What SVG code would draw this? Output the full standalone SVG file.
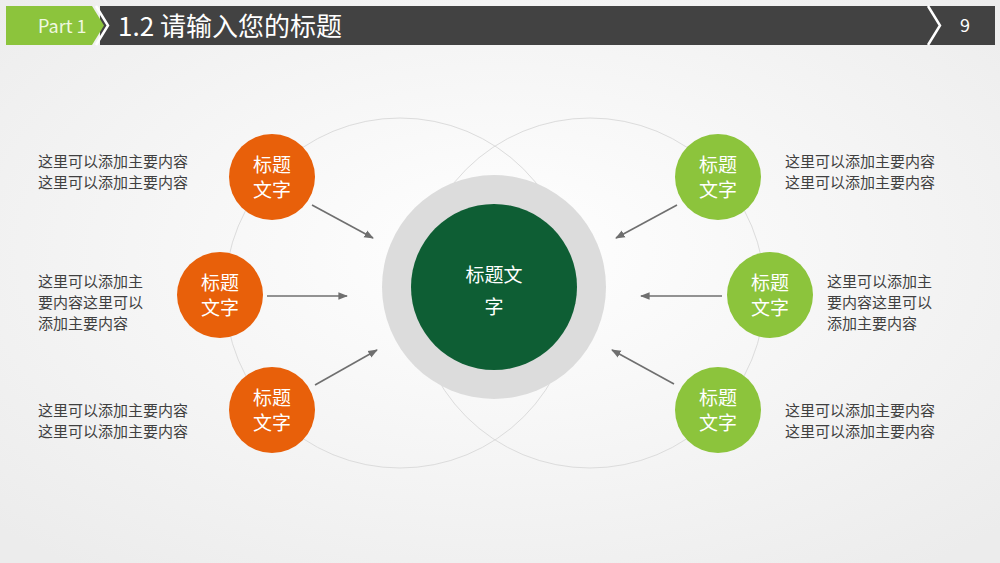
<svg xmlns="http://www.w3.org/2000/svg" width="1000" height="563" viewBox="0 0 1000 563">
<defs>
<radialGradient id="bg" cx="50%" cy="45%" r="70%"><stop offset="0" stop-color="#ffffff"/><stop offset="1" stop-color="#ececec"/></radialGradient>
<marker id="ah" viewBox="0 0 10 10" refX="9" refY="5" markerWidth="6" markerHeight="6" orient="auto"><path d="M0,1 L10,5 L0,9 z" fill="#6f6f6f"/></marker>
<style>
text{font-family:"Noto Sans CJK SC","Liberation Sans",sans-serif}
.t{font-size:15px;fill:#404040}
.n{font-size:19px;fill:#fff;text-anchor:middle}
.c{stroke:#6f6f6f;stroke-width:1.6;fill:none;marker-end:url(#ah)}
.o{fill:#e8600a}.g{fill:#8cc43c}
</style>
</defs>
<rect width="1000" height="563" fill="url(#bg)"/>
<g id="header">
<rect x="100" y="6" width="895" height="39" fill="#424242"/>
<path d="M6,6 H92 L104,25.5 L92,45 H6 z" fill="#8cc43c"/>
<path d="M96,6 L108,25.5 L96,45" stroke="#fff" stroke-width="2.5" fill="none"/>
<path d="M928,6 L940,25.5 L928,45" stroke="#fff" stroke-width="2.5" fill="none"/>
<text x="38" y="33" font-size="18" fill="#f0f8e0" font-family="Liberation Sans">Part 1</text>
<text x="118" y="36" font-size="26" fill="#fff">1.2  请输入您的标题</text>
<text x="965" y="32" font-size="18" fill="#fff" text-anchor="middle" font-family="Liberation Sans">9</text>
</g>
<g id="rings" fill="none" stroke="#dcdcdc" stroke-width="1">
<circle cx="400" cy="293" r="175"/><circle cx="590" cy="293" r="175"/>
</g>
<g id="center">
<circle cx="494" cy="287" r="112" fill="#dcdcdc"/>
<circle cx="494" cy="287" r="83" fill="#0e5e34"/>
<text class="n" x="494" y="282" font-size="25">标题文</text>
<text class="n" x="494" y="314" font-size="25">字</text>
</g>
<g id="L1"><circle class="o" cx="272" cy="177" r="43"/><text class="n" x="272" y="172">标题</text><text class="n" x="272" y="197">文字</text></g>
<g id="L2"><circle class="o" cx="220" cy="295" r="43"/><text class="n" x="220" y="290">标题</text><text class="n" x="220" y="315">文字</text></g>
<g id="L3"><circle class="o" cx="272" cy="410" r="43"/><text class="n" x="272" y="405">标题</text><text class="n" x="272" y="430">文字</text></g>
<g id="R1"><circle class="g" cx="718" cy="177" r="43"/><text class="n" x="718" y="172">标题</text><text class="n" x="718" y="197">文字</text></g>
<g id="R2"><circle class="g" cx="770" cy="295" r="43"/><text class="n" x="770" y="290">标题</text><text class="n" x="770" y="315">文字</text></g>
<g id="R3"><circle class="g" cx="718" cy="410" r="43"/><text class="n" x="718" y="405">标题</text><text class="n" x="718" y="430">文字</text></g>
<g id="connectors">
<line class="c" x1="312" y1="205" x2="373" y2="238"/>
<line class="c" x1="267" y1="296" x2="347" y2="296"/>
<line class="c" x1="315" y1="385" x2="377" y2="350"/>
<line class="c" x1="677" y1="205" x2="616" y2="238"/>
<line class="c" x1="722" y1="296" x2="641" y2="296"/>
<line class="c" x1="674" y1="384" x2="612" y2="350"/>
</g>
<g id="texts">
<text class="t" x="38" y="167">这里可以添加主要内容</text><text class="t" x="38" y="188">这里可以添加主要内容</text>
<text class="t" x="38" y="287">这里可以添加主</text><text class="t" x="38" y="308">要内容这里可以</text><text class="t" x="38" y="329">添加主要内容</text>
<text class="t" x="38" y="416">这里可以添加主要内容</text><text class="t" x="38" y="437">这里可以添加主要内容</text>
<text class="t" x="785" y="167">这里可以添加主要内容</text><text class="t" x="785" y="188">这里可以添加主要内容</text>
<text class="t" x="827" y="287">这里可以添加主</text><text class="t" x="827" y="308">要内容这里可以</text><text class="t" x="827" y="329">添加主要内容</text>
<text class="t" x="785" y="416">这里可以添加主要内容</text><text class="t" x="785" y="437">这里可以添加主要内容</text>
</g>
</svg>
